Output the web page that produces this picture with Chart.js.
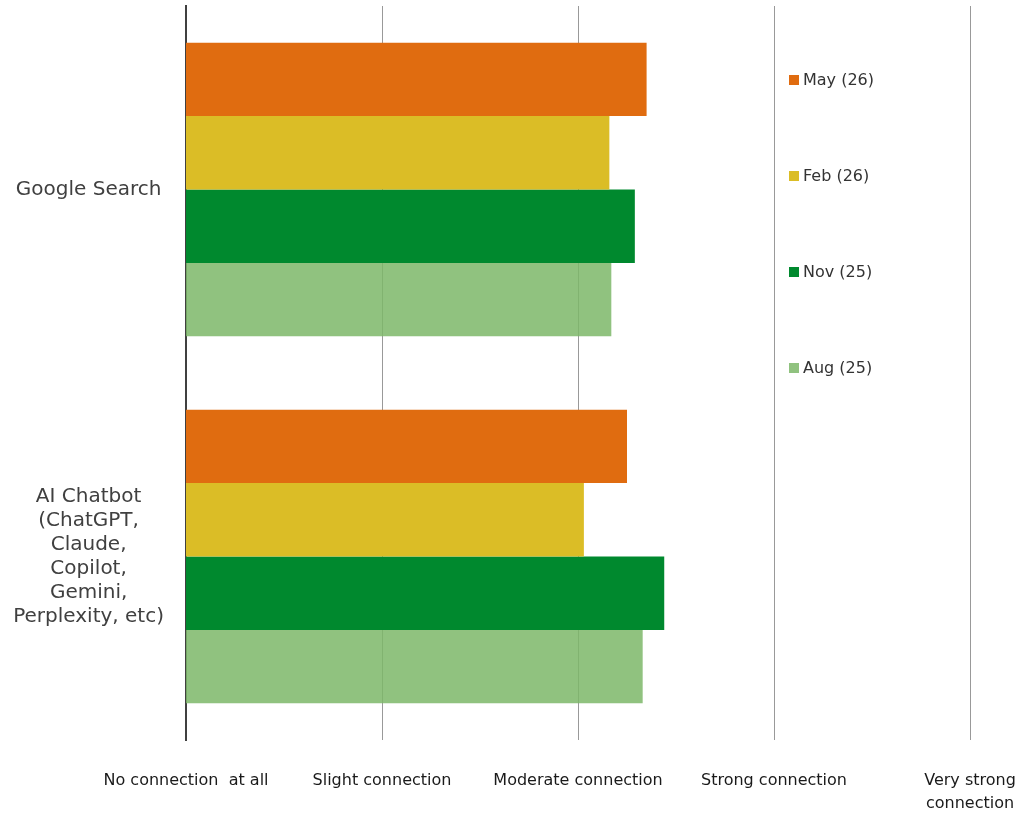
<!DOCTYPE html>
<html>
<head>
<meta charset="utf-8">
<script src="https://cdn.jsdelivr.net/npm/chart.js@4/dist/chart.umd.min.js"></script>
<style>
    html, body { margin: 0; padding: 0; background: #fff; }
    canvas { display: block; }
</style>
</head>
<body>
<canvas id="chart" width="1016" height="816"></canvas>
<script>
    // categories (y axis), one line per array entry
    const categories = [
        ['Google Search'],
        ['AI Chatbot', '(ChatGPT,', 'Claude,', 'Copilot,', 'Gemini,', 'Perplexity, etc)']
    ];
    const seriesLabels = ['May (26)', 'Feb (26)', 'Nov (25)', 'Aug (25)'];

    // 1 = no connection ... 5 = very strong
    const may26 = [3.35, 3.25];
    const feb26 = [3.16, 3.03];
    const nov25 = [3.29, 3.44];
    const aug25 = [3.17, 3.33];

    const tickLabels = [
        'No connection  at all',
        'Slight connection',
        'Moderate connection',
        'Strong connection',
        ['Very strong', 'connection']
    ];

    const colors = ['#E06C10', '#DBBD26', '#00892E', 'rgba(125,183,104,0.85)'];
    const FONT = '"DejaVu Sans", Verdana, sans-serif';

    // legend drawn inside the plot, top right
    const sideLegend = {
        id: 'sideLegend',
        afterDraw: function (chart) {
            const ctx = chart.ctx;
            const area = chart.chartArea;
            ctx.save();
            ctx.font = '16px ' + FONT;
            ctx.textBaseline = 'middle';
            ctx.textAlign = 'left';
            chart.data.datasets.forEach(function (ds, i) {
                const x = area.right - 181;
                const y = area.top + 74 + i * 96;
                ctx.fillStyle = ds.backgroundColor;
                ctx.fillRect(x, y - 5, 10, 10);
                ctx.fillStyle = '#333333';
                ctx.fillText(ds.label, x + 14, y + 1);
            });
            ctx.restore();
        }
    };

    const seriesData = [may26, feb26, nov25, aug25];

    new Chart(document.getElementById('chart'), {
        type: 'bar',
        data: {
            labels: categories,
            datasets: seriesLabels.map(function (label, i) {
                return {
                    label: label,
                    data: seriesData[i],
                    backgroundColor: colors[i],
                    borderWidth: 0,
                    categoryPercentage: 0.8,
                    barPercentage: 1.0
                };
            })
        },
        options: {
            indexAxis: 'y',
            responsive: false,
            animation: false,
            devicePixelRatio: 1,
            layout: { padding: { top: 6, left: 0, right: 0, bottom: 0 } },
            plugins: {
                legend: { display: false },
                tooltip: { enabled: false }
            },
            scales: {
                x: {
                    min: 1,
                    max: 5,
                    ticks: {
                        stepSize: 1,
                        padding: 29,
                        color: '#1a1a1a',
                        font: { family: FONT, size: 16, lineHeight: 1.45 },
                        maxRotation: 0,
                        autoSkip: false,
                        callback: function (value) {
                            return tickLabels[value - 1];
                        }
                    },
                    grid: { color: '#999999', lineWidth: 1, drawTicks: false },
                    border: { display: false },
                    afterFit: function (scale) {
                        scale.height = 76;
                        scale.paddingLeft = 0;
                        scale.paddingRight = 46;
                    }
                },
                y: {
                    ticks: {
                        padding: 22,
                        crossAlign: 'center',
                        color: '#404040',
                        font: { family: FONT, size: 20, lineHeight: 1.2 }
                    },
                    grid: { display: false, drawTicks: false },
                    border: { display: true, color: '#404040', width: 2 },
                    afterFit: function (scale) {
                        scale.width = 186;
                        scale.paddingTop = 0;
                        scale.paddingBottom = 0;
                    }
                }
            }
        },
        plugins: [sideLegend]
    });
</script>
</body>
</html>
